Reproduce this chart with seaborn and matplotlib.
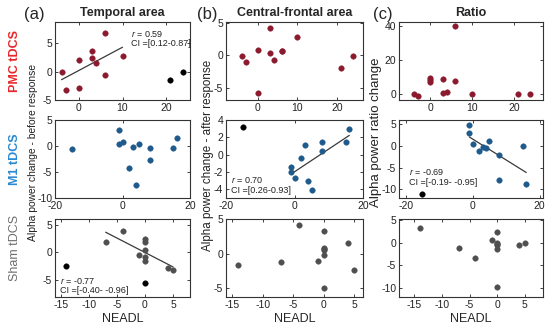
import numpy as np
import pandas as pd
import seaborn as sns
import matplotlib.pyplot as plt

# PMC tDCS (rows share the same NEADL values except the ratio panel)
pmc_neadl = [-4, -3, 0, 0, 3, 3, 4, 6, 6, 10, 21, 24]
pmc_before = [0, -3.3, 2, -2.9, 3.6, 2.5, 1.5, 6.9, -0.5, 2.8, -1.5, 0]
pmc_before_out = [0, 0, 0, 0, 0, 0, 0, 0, 0, 0, 1, 1]
pmc_after = [-0.1, -1.1, 0.8, -5.8, 4.3, 0.3, -0.7, 0.7, 0.6, 2.8, -2.0, -0.1]
pmc_after_out = [0] * 12
pmc_ratio_neadl = [-4, -3, 0, 0, 0, 3, 3, 4, 6, 6, 10, 21, 24]
pmc_ratio = [0, -1, 9.4, 8, 6.8, 8.8, 0.4, 1, 39.8, 7.4, 0, 0, 0.2]
pmc_ratio_out = [0] * 13

# M1 tDCS
m1_neadl = [-15, -1, -1, 0, 2, 3, 4, 5, 8, 8, 15, 16]
m1_before = [-0.65, 3.05, 0.45, 0.8, -4.15, -0.2, -7.5, 0.45, -0.4, -2.65, -0.45, 1.6]
m1_before_out = [0] * 12
m1_after = [3.15, -1.46, -2.0, -2.73, -0.38, 1.08, -3.0, -4.04, 1.42, 0.46, 1.46, 2.96]
m1_after_out = [1] + [0] * 11
m1_ratio = [-11, 4.85, 3.1, 0.55, -1.15, -0.2, -0.45, 1.2, -2.15, -7.9, 0.1, -8.8]
m1_ratio_out = [1] + [0] * 11

# Sham tDCS
sham_neadl = [-14, -7, -4, -1, 0, 0, 0, 0, 0, 0, 4, 5]
sham_before = [-2.5, 1.9, 3.9, -0.5, 2.35, 1.8, 0.4, -0.9, -1.5, -5.4, -2.8, -3.2]
sham_before_out = [1, 0, 0, 0, 0, 0, 0, 0, 0, 1, 0, 0]
sham_after = [-1.6, -1.3, 4.2, -1.1, 3.3, 0.75, 0.6, 0.5, -0.25, -5.05, 1.55, -2.45]
sham_after_out = [0] * 12
sham_ratio = [3.3, -1.1, -3.3, 0.6, 2.4, -0.15, -0.3, -0.5, -1.4, -9.7, -0.6, -0.1]
sham_ratio_out = [0] * 12

titles = ["Temporal area", "Central-frontal area", "Ratio"]
panel_tags = ["(a)", "(b)", "(c)"]
row_names = ["PMC tDCS", "M1 tDCS", "Sham tDCS"]
row_label_colors = ["#e8282a", "#2a8ad2", "#6e6e6e"]
marker_colors = ["#8c1a2e", "#1f5a8c", "#4f4f4f"]
ylabels = ["Alpha power change - before response",
           "Alpha power change - after response",
           "Alpha power ratio change"]

# (x, y, outlier flags, stats text, stats position)
panels = [
    [(pmc_neadl, pmc_before, pmc_before_out, ("0.59", "[0.12-0.87]"), (0.56, 0.85)),
     (pmc_neadl, pmc_after, pmc_after_out, None, None),
     (pmc_ratio_neadl, pmc_ratio, pmc_ratio_out, None, None)],
    [(m1_neadl, m1_before, m1_before_out, None, None),
     (m1_neadl, m1_after, m1_after_out, ("0.70", "[0.26-0.93]"), (0.04, 0.23)),
     (m1_neadl, m1_ratio, m1_ratio_out, ("-0.69", "[-0.19- -0.95]"), (0.07, 0.33))],
    [(sham_neadl, sham_before, sham_before_out, ("-0.77", "[-0.40- -0.96]"), (0.04, 0.21)),
     (sham_neadl, sham_after, sham_after_out, None, None),
     (sham_neadl, sham_ratio, sham_ratio_out, None, None)],
]

xlims = [[(-5.5, 25.5), (-8, 26.5), (-7.5, 27)],
         [(-20, 20), (-20, 20), (-22, 21)],
         [(-16, 8), (-16, 6.4), (-17.8, 8.3)]]
ylims = [[(-5, 8.8), (-6.9, 5.15), (-3.6, 42.4)],
         [(-10, 5), (-5, 4), (-12, 6)],
         [(-8, 6), (-6.3, 5), (-12, 5.2)]]
xticks = [[0, 10, 20], [-20, 0, 20], [-15, -10, -5, 0, 5]]
yticks = [[[-5, 0, 5], [-5, 0, 5], [0, 20, 40]],
          [[-10, -5, 0, 5], [-4, -2, 0, 2, 4], [-10, -5, 0, 5]],
          [[-5, 0, 5], [-5, 0, 5], [-10, -5, 0, 5]]]

sns.set_style("ticks")
plt.rcParams["font.family"] = ["Liberation Sans", "DejaVu Sans"]
plt.rcParams["axes.unicode_minus"] = False
plt.rcParams["mathtext.fontset"] = "custom"
plt.rcParams["mathtext.it"] = "Liberation Sans:italic"
plt.rcParams["mathtext.rm"] = "Liberation Sans"

W, H = 550, 330
fig = plt.figure(figsize=(5.5, 3.3), dpi=100)

col_left = [55, 226, 399]
col_width = [135, 137, 144]
row_top = [22, 120, 219]
row_h = 78

for r in range(3):
    for c in range(3):
        x, y, out, stats, pos = panels[r][c]
        ax = fig.add_axes([col_left[c] / W, 1 - (row_top[r] + row_h) / H,
                           col_width[c] / W, row_h / H])
        df = pd.DataFrame({"x": x, "y": y, "out": np.array(out, dtype=bool)})
        main = df[~df.out]
        outl = df[df.out]
        if stats is not None:
            sns.regplot(data=main, x="x", y="y", scatter=False, ci=None, ax=ax,
                        line_kws=dict(color="#3a3a3a", lw=0.9))
        sns.scatterplot(data=main, x="x", y="y", ax=ax, color=marker_colors[r],
                        s=16, edgecolor=marker_colors[r], linewidth=0.3, zorder=3)
        if len(outl):
            sns.scatterplot(data=outl, x="x", y="y", ax=ax, color="black",
                            s=16, edgecolor="black", linewidth=0.3, zorder=3)
        if stats is not None:
            ax.text(pos[0], pos[1], f"$r$ = {stats[0]}", transform=ax.transAxes,
                    fontsize=6.5, va="center", color="#222222")
            ax.text(pos[0], pos[1] - 0.13, f"CI ={stats[1]}", transform=ax.transAxes,
                    fontsize=6.5, va="center", color="#222222")
        ax.set_xlim(*xlims[r][c])
        ax.set_ylim(*ylims[r][c])
        ax.set_xticks(xticks[r])
        ax.set_yticks(yticks[r][c])
        ax.tick_params(direction="in", top=True, right=True, length=2.5,
                       width=0.6, labelsize=7.5, pad=2, colors="#222222")
        for sp in ax.spines.values():
            sp.set_visible(True)
            sp.set_linewidth(0.8)
            sp.set_color("#333333")
        ax.set_ylabel("")
        if r == 2:
            ax.set_xlabel("NEADL", fontsize=9, labelpad=2)
        else:
            ax.set_xlabel("")
        if r == 0:
            ax.set_title(titles[c], fontsize=9, fontweight="bold", pad=4)

# panel tags
for tx, t in zip([34, 207, 383], panel_tags):
    fig.text(tx / W, 1 - 14 / H, t, fontsize=12, ha="center", va="center")

# row labels
for yc, name, col, fw in zip([61, 159, 248], row_names, row_label_colors,
                             ["bold", "bold", "normal"]):
    fig.text(15 / W, 1 - yc / H, name, rotation=90, color=col, fontsize=9,
             fontweight=fw, ha="center", va="center")

# column y labels
for (tx, ty), lab, fs in zip([(33, 152), (208, 155), (376, 132)], ylabels,
                             [7.4, 8.4, 9.5]):
    fig.text(tx / W, 1 - ty / H, lab, rotation=90, fontsize=fs,
             ha="center", va="center", color="#222222")

fig.savefig("out.png", dpi=100)
